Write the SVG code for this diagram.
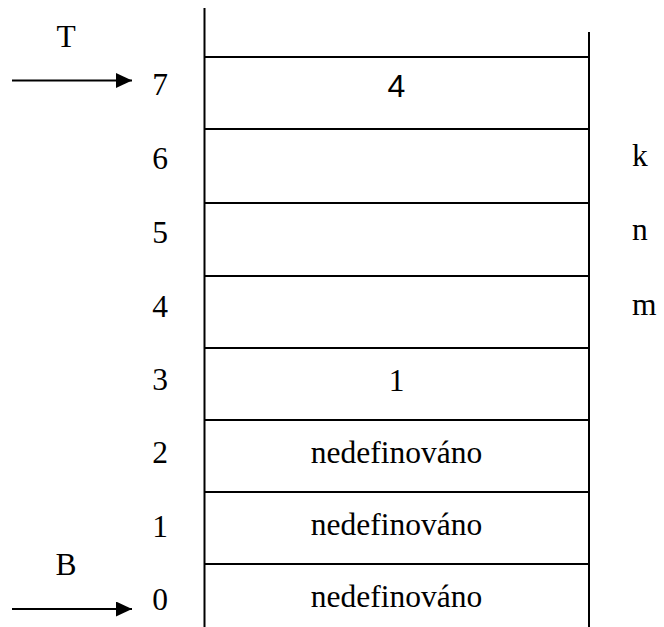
<svg xmlns="http://www.w3.org/2000/svg" width="664" height="627" viewBox="0 0 664 627">
<defs>
<style>
.ln{stroke:#000;stroke-width:2;fill:none}
.t{font-family:"Liberation Serif","Times New Roman",serif;font-size:31.5px;fill:#000}
.c{text-anchor:middle}
.s{font-family:"Liberation Sans",Arial,sans-serif;font-size:32px;fill:#000}
</style>
<marker id="ah" markerWidth="16" markerHeight="15" refX="16" refY="7.5" orient="auto" markerUnits="userSpaceOnUse" viewBox="0 0 16 15">
<path d="M0,0 L16,7.5 L0,15 Z" fill="#000"/>
</marker>
</defs>
<rect width="664" height="627" fill="#fff"/>
<g id="stack">
<line class="ln" x1="204.5" y1="8" x2="204.5" y2="627"/>
<line class="ln" x1="589" y1="32" x2="589" y2="627"/>
<line class="ln" x1="204.5" y1="57" x2="589" y2="57"/>
<line class="ln" x1="204.5" y1="129" x2="589" y2="129"/>
<line class="ln" x1="204.5" y1="203" x2="589" y2="203"/>
<line class="ln" x1="204.5" y1="276" x2="589" y2="276"/>
<line class="ln" x1="204.5" y1="348" x2="589" y2="348"/>
<line class="ln" x1="204.5" y1="420" x2="589" y2="420"/>
<line class="ln" x1="204.5" y1="492" x2="589" y2="492"/>
<line class="ln" x1="204.5" y1="564" x2="589" y2="564"/>
</g>
<g id="cell7"><text class="s c" x="396.5" y="97">4</text></g>
<g id="cell3"><text class="t c" x="396.5" y="391">1</text></g>
<g id="cell2"><text class="t c" x="396.5" y="463">nedefinováno</text></g>
<g id="cell1"><text class="t c" x="396.5" y="535">nedefinováno</text></g>
<g id="cell0"><text class="t c" x="396.5" y="607">nedefinováno</text></g>
<g id="indices">
<text class="t c" x="160" y="95">7</text>
<text class="t c" x="160" y="169">6</text>
<text class="t c" x="160" y="243">5</text>
<text class="t c" x="160" y="317">4</text>
<text class="t c" x="160" y="390">3</text>
<text class="t c" x="160" y="463">2</text>
<text class="t c" x="160" y="537">1</text>
<text class="t c" x="160" y="610">0</text>
</g>
<g id="vars">
<text class="t" x="632" y="166">k</text>
<text class="t" x="632" y="240">n</text>
<text class="t" x="632" y="315">m</text>
</g>
<g id="T"><text class="t c" x="66" y="47">T</text></g>
<g id="B"><text class="t c" x="66" y="575">B</text></g>
<g id="connectors">
<line class="ln" x1="12" y1="80.5" x2="132" y2="80.5" marker-end="url(#ah)"/>
<line class="ln" x1="12" y1="609" x2="132" y2="609" marker-end="url(#ah)"/>
</g>
</svg>
